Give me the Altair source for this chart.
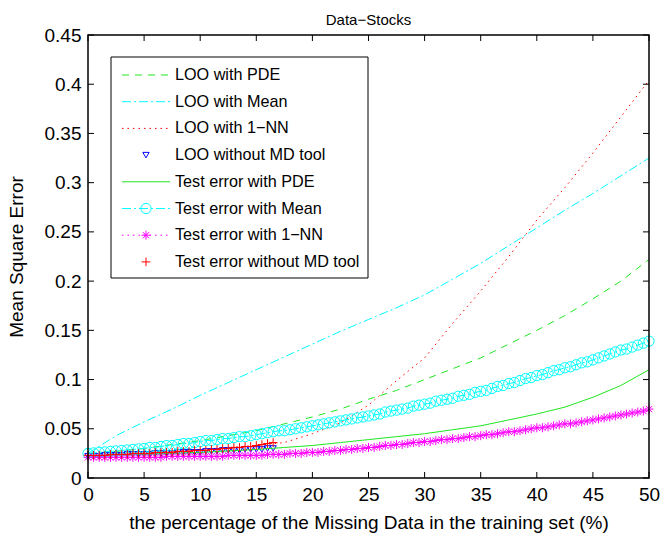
import altair as alt
import pandas as pd

# ---------------- data ----------------
x_coarse = [0, 2.5, 5, 7.5, 10, 12.5, 15, 17.5, 20, 22.5, 25, 27.5, 30,
            32.5, 35, 37.5, 40, 42.5, 45, 47.5, 50]
x_fine = [i / 2 for i in range(101)]
x_short = [i / 2 for i in range(34)]

loo_pde = [0.025, 0.027, 0.030, 0.034, 0.038, 0.043, 0.048, 0.055, 0.062, 0.070,
           0.080, 0.089, 0.100, 0.111, 0.122, 0.136, 0.150, 0.165, 0.182, 0.200, 0.222]
loo_mean = [0.025, 0.043, 0.057, 0.070, 0.084, 0.097, 0.110, 0.123, 0.136, 0.149,
            0.161, 0.173, 0.186, 0.202, 0.218, 0.236, 0.254, 0.272, 0.289, 0.307, 0.325]
loo_1nn = [0.025, 0.025, 0.026, 0.027, 0.029, 0.031, 0.033, 0.036, 0.045, 0.056,
           0.074, 0.099, 0.122, 0.157, 0.190, 0.225, 0.262, 0.295, 0.330, 0.367, 0.404]
test_pde = [0.022, 0.023, 0.024, 0.025, 0.026, 0.0275, 0.029, 0.031, 0.033, 0.036,
            0.039, 0.042, 0.045, 0.049, 0.053, 0.059, 0.065, 0.072, 0.082, 0.094, 0.110]

loo_nomd = [0.022, 0.022, 0.022, 0.023, 0.023, 0.023, 0.023, 0.024, 0.024, 0.024,
            0.024, 0.024, 0.025, 0.025, 0.025, 0.025, 0.026, 0.026, 0.026, 0.026,
            0.026, 0.027, 0.027, 0.027, 0.028, 0.028, 0.028, 0.028, 0.029, 0.029,
            0.029, 0.029, 0.030, 0.030]
test_nomd = [0.023, 0.023, 0.023, 0.023, 0.024, 0.024, 0.024, 0.024, 0.025, 0.025,
             0.025, 0.025, 0.026, 0.026, 0.026, 0.026, 0.027, 0.027, 0.027, 0.028,
             0.028, 0.028, 0.029, 0.029, 0.030, 0.030, 0.031, 0.031, 0.032, 0.032,
             0.033, 0.034, 0.035, 0.036]
test_mean = [0.025, 0.0255, 0.026, 0.0265, 0.027, 0.0275, 0.028, 0.0285, 0.029, 0.0295,
             0.030, 0.031, 0.031, 0.032, 0.033, 0.033, 0.034, 0.035, 0.035, 0.036,
             0.037, 0.038, 0.038, 0.039, 0.040, 0.040, 0.041, 0.042, 0.042, 0.043,
             0.044, 0.045, 0.046, 0.047, 0.048, 0.048, 0.049, 0.050, 0.051, 0.052,
             0.053, 0.054, 0.055, 0.056, 0.057, 0.058, 0.059, 0.060, 0.061, 0.062,
             0.063, 0.064, 0.065, 0.067, 0.068, 0.069, 0.070, 0.071, 0.073, 0.074,
             0.075, 0.076, 0.078, 0.079, 0.080, 0.081, 0.083, 0.084, 0.085, 0.087,
             0.088, 0.089, 0.091, 0.093, 0.094, 0.096, 0.097, 0.099, 0.101, 0.102,
             0.104, 0.105, 0.107, 0.109, 0.110, 0.112, 0.113, 0.115, 0.117, 0.118,
             0.120, 0.122, 0.124, 0.126, 0.128, 0.130, 0.131, 0.133, 0.135, 0.137, 0.139]
test_1nn = [0.021, 0.021, 0.021, 0.021, 0.021, 0.021, 0.021, 0.021, 0.021, 0.021,
            0.021, 0.021, 0.021, 0.021, 0.022, 0.022, 0.022, 0.022, 0.022, 0.022,
            0.022, 0.022, 0.022, 0.022, 0.022, 0.023, 0.023, 0.023, 0.023, 0.023,
            0.023, 0.023, 0.024, 0.024, 0.024, 0.024, 0.025, 0.025, 0.025, 0.026,
            0.026, 0.026, 0.027, 0.027, 0.028, 0.028, 0.029, 0.029, 0.030, 0.030,
            0.031, 0.031, 0.032, 0.033, 0.033, 0.034, 0.034, 0.035, 0.036, 0.036,
            0.037, 0.037, 0.038, 0.039, 0.039, 0.040, 0.040, 0.041, 0.042, 0.042,
            0.043, 0.044, 0.044, 0.045, 0.046, 0.047, 0.047, 0.048, 0.049, 0.050,
            0.051, 0.051, 0.052, 0.053, 0.054, 0.055, 0.055, 0.056, 0.057, 0.058,
            0.059, 0.060, 0.061, 0.062, 0.063, 0.064, 0.065, 0.066, 0.067, 0.068, 0.070]

labels = ["LOO with PDE", "LOO with Mean", "LOO with 1\u2212NN", "LOO without MD tool",
          "Test error with PDE", "Test error with Mean", "Test error with 1\u2212NN",
          "Test error without MD tool"]

x_ticks = [0, 5, 10, 15, 20, 25, 30, 35, 40, 45, 50]
y_ticks = [0, 0.05, 0.1, 0.15, 0.2, 0.25, 0.3, 0.35, 0.4, 0.45]

# ---------------- layout ----------------
W, H = 561, 443
LEFT, TOP = 88, 35
XMAX, YMAX = 50, 0.45
FONT = "Liberation Sans"


def dx(px):
    return (px - LEFT) / W * XMAX


def dy(py):
    return (TOP + H - py) / H * YMAX


xs = alt.Scale(domain=[0, XMAX], nice=False, zero=False)
ys = alt.Scale(domain=[0, YMAX], nice=False, zero=False)
common_axis = dict(grid=False, domain=False, ticks=False, labelFont=FONT, titleFont=FONT,
                   labelFontSize=19, titleFontSize=19, labelColor="black",
                   titleColor="black", titleFontWeight="normal", labelPadding=7,
                   labelFlush=False, labelOverlap=False)
xax = alt.Axis(values=x_ticks, format="d", titlePadding=9, **common_axis)
yax = alt.Axis(values=y_ticks, format="~g", titlePadding=18, **common_axis)
XT = "the percentage of the Missing Data in the training set (%)"
YT = "Mean Square Error"


def X(field="x"):
    return alt.X(f"{field}:Q", scale=xs, axis=xax, title=XT)


def Y(field="y"):
    return alt.Y(f"{field}:Q", scale=ys, axis=yax, title=YT)


STAR = "M-1,0L1,0M0,-1L0,1M-0.7,-0.7L0.7,0.7M-0.7,0.7L0.7,-0.7"
PLUS = "M-1,0L1,0M0,-1L0,1"

GREEN = "#1fe61f"
CYAN = "#00ffff"
RED = "#ff0000"
MAG = "#ff00ff"
BLUE = "#0000ff"

series = [
    # (x, y, color, dash, show_line, shape, size)
    (x_coarse, loo_pde, GREEN, [7, 6], True, None, 0),
    (x_coarse, loo_mean, CYAN, [9, 3, 2, 3], True, None, 0),
    (x_coarse, loo_1nn, RED, [1.5, 4], True, None, 0),
    (x_short, loo_nomd, BLUE, None, False, "triangle-down", 40),
    (x_coarse, test_pde, GREEN, None, True, None, 0),
    (x_fine, test_mean, CYAN, [9, 3, 2, 3], True, "circle", 105),
    (x_fine, test_1nn, MAG, [1.5, 4], True, STAR, 80),
    (x_short, test_nomd, RED, None, False, PLUS, 75),
]

layers = []

for i, (sx, sy, col, dash, show_line, shape, size) in enumerate(series):
    df = pd.DataFrame({"x": sx, "y": sy})
    if show_line:
        kw = dict(color=col, strokeWidth=1)
        if dash:
            kw["strokeDash"] = dash
        layers.append(alt.Chart(df).mark_line(**kw).encode(x=X(), y=Y()))
    if shape:
        layers.append(alt.Chart(df).mark_point(
            shape=shape, size=size, filled=False, stroke=col, strokeWidth=1, opacity=1
        ).encode(x=X(), y=Y()))

# frame
layers.append(alt.Chart(pd.DataFrame({"x": [0]})).mark_rect(
    fill=None, stroke="black", strokeWidth=1.5).encode(
    x=alt.value(0), x2=alt.value(W), y=alt.value(0), y2=alt.value(H)))

# inward ticks on all four sides
TL = 6
tx = pd.DataFrame({"x": x_ticks})
ty = pd.DataFrame({"y": y_ticks})
layers.append(alt.Chart(tx).mark_rule(color="black", strokeWidth=1).encode(
    x=X(), y=alt.value(H), y2=alt.value(H - TL)))
layers.append(alt.Chart(tx).mark_rule(color="black", strokeWidth=1).encode(
    x=X(), y=alt.value(0), y2=alt.value(TL)))
layers.append(alt.Chart(ty).mark_rule(color="black", strokeWidth=1).encode(
    y=Y(), x=alt.value(0), x2=alt.value(TL)))
layers.append(alt.Chart(ty).mark_rule(color="black", strokeWidth=1).encode(
    y=Y(), x=alt.value(W), x2=alt.value(W - TL)))

# legend box (in data coordinates)
box = pd.DataFrame({"x": [dx(111)], "x2": [dx(368)], "y": [dy(57)], "y2": [dy(278)]})
layers.append(alt.Chart(box).mark_rect(fill="white", stroke="black", strokeWidth=1).encode(
    x=X(), x2="x2:Q", y=Y(), y2="y2:Q"))

row_py = [75 + k * 26.7 for k in range(8)]
for k, (sx, sy, col, dash, show_line, shape, size) in enumerate(series):
    yy = dy(row_py[k])
    if show_line:
        ldf = pd.DataFrame({"x": [dx(122), dx(170)], "y": [yy, yy]})
        kw = dict(color=col, strokeWidth=1)
        if dash:
            kw["strokeDash"] = dash
        layers.append(alt.Chart(ldf).mark_line(**kw).encode(x=X(), y=Y()))
    if shape:
        pdf = pd.DataFrame({"x": [dx(146)], "y": [yy]})
        layers.append(alt.Chart(pdf).mark_point(
            shape=shape, size=size, filled=False, stroke=col, strokeWidth=1, opacity=1
        ).encode(x=X(), y=Y()))

tdf = pd.DataFrame({"x": [dx(175)] * 8, "y": [dy(p) for p in row_py], "label": labels})
layers.append(alt.Chart(tdf).mark_text(
    align="left", baseline="middle", font=FONT, fontSize=16.2, color="black"
).encode(x=X(), y=Y(), text="label:N"))

chart = alt.layer(*layers).properties(
    width=W, height=H,
    background="white",
    title=alt.TitleParams("Data\u2212Stocks", font=FONT, fontSize=15, fontWeight="normal",
                          color="black", offset=-2),
    autosize=alt.AutoSizeParams(type="none"),
    padding={"left": LEFT, "top": TOP, "right": 663 - LEFT - W, "bottom": 537 - TOP - H},
).configure_view(stroke=None)

chart.save("out.html", embed_options={"renderer": "svg", "actions": False})
